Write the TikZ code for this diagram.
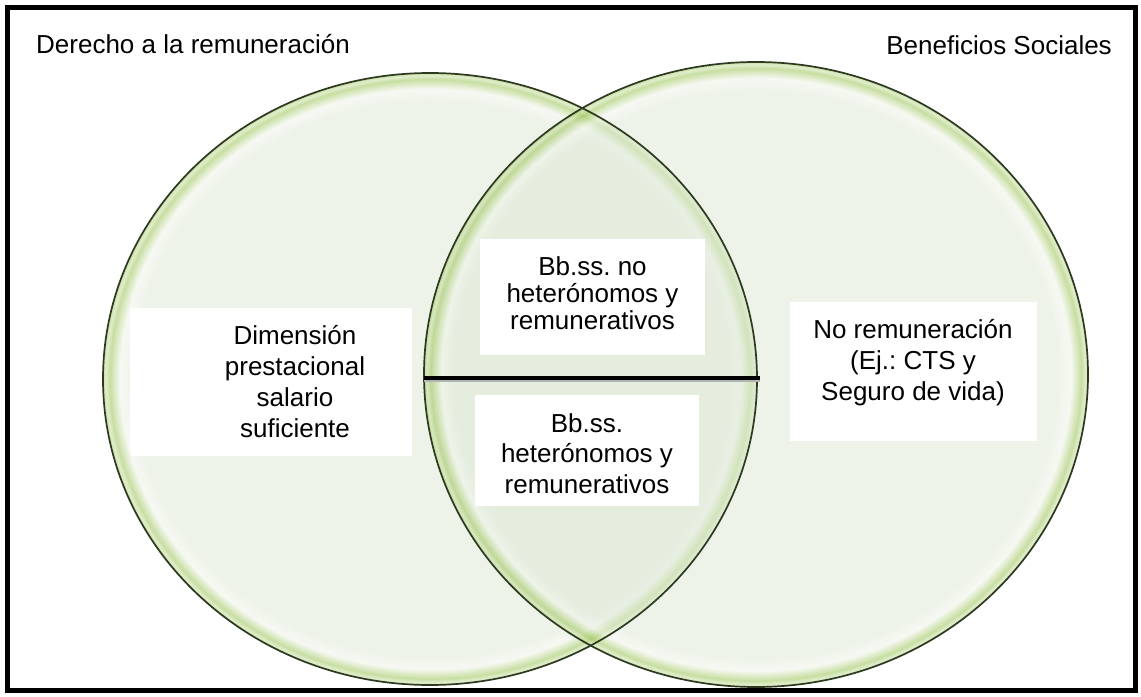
\documentclass[tikz,border=0pt]{standalone}
\usepackage{fontspec}
\setmainfont{Liberation Sans}
\frenchspacing
\definecolor{vfill}{HTML}{DDE8D5}
\definecolor{vhi}{HTML}{EEF4E8}
\definecolor{vrim}{HTML}{92BE44}
\definecolor{vlight}{HTML}{C4DC9E}
\definecolor{vline}{HTML}{2D3A20}
\pgfdeclareradialshading{vennrim}{\pgfpoint{0bp}{0bp}}{%
  color(0bp)=(vfill); color(22.7bp)=(vfill); color(23.7bp)=(vhi); color(24.5bp)=(vrim);
  color(24.8bp)=(vlight); color(25bp)=(vrim); color(50bp)=(vrim)}
\newcommand{\ctext}[2]{\vtop{\baselineskip=#1\lineskiplimit=-100bp\lineskip=0pt
  \halign{\hfil##\hfil\cr #2\crcr}}}
\begin{document}
\begin{tikzpicture}[x=1bp,y=-1bp,
  venn/.style={shading=vennrim, fill opacity=0.5},
  vennline/.style={draw=vline, line width=1.7bp},
  wbox/.style={fill=white, draw=none, inner sep=0pt},
  lbl/.style={inner sep=0pt, anchor=base, font=\fontsize{26bp}{31bp}\selectfont\frenchspacing},
  title/.style={inner sep=0pt, font=\fontsize{26bp}{31bp}\selectfont},
  divline/.style={line width=4bp, black, preaction={draw=black!30, line width=4bp, transform canvas={yshift=-2bp}}}]
\useasboundingbox (0,0) rectangle (1141,697);
\fill[white] (0,0) rectangle (1141,697);
% circles
\shade[venn] (430,379) ellipse [x radius=327, y radius=306];
\shade[venn] (756,374.5) ellipse [x radius=332, y radius=312.5];
\path[vennline] (430,379) ellipse [x radius=327, y radius=306];
\path[vennline] (756,374.5) ellipse [x radius=332, y radius=312.5];
% frame
\draw[line width=5bp] (7,8) rectangle (1135,690);
% titles
\node[title, anchor=base west] (tleft) at (36,54) {Derecho a la remuneración};
\node[title, anchor=base east] (tright) at (1112,55) {Beneficios Sociales};
% boxes
\node[wbox, minimum width=282bp, minimum height=148bp] (boxD) at (271,382) {};
\node[wbox, minimum width=225bp, minimum height=116bp] (boxU) at (592.5,297) {};
\node[wbox, minimum width=224bp, minimum height=111bp] (boxL) at (587,450.5) {};
\node[wbox, minimum width=247bp, minimum height=139bp] (boxR) at (913.5,371.5) {};
% dividing line
\coordinate (lineL) at (424,378);
\coordinate (lineR) at (760,378);
\draw[divline] (lineL) -- (lineR);
% texts
\node[lbl] (txtD) at (295,344) {\ctext{31bp}{Dimensión\cr prestacional\cr salario\cr suficiente}};
\node[lbl] (txtU) at (592.5,275) {\ctext{27bp}{Bb.ss. no\cr heterónomos y\cr remunerativos}};
\node[lbl] (txtL) at (587,432) {\ctext{30.5bp}{Bb.ss.\cr heterónomos y\cr remunerativos}};
\node[lbl] (txtR) at (913,338) {\ctext{31bp}{No remuneración\cr (Ej.: CTS y\cr Seguro de vida)}};
\end{tikzpicture}
\end{document}
